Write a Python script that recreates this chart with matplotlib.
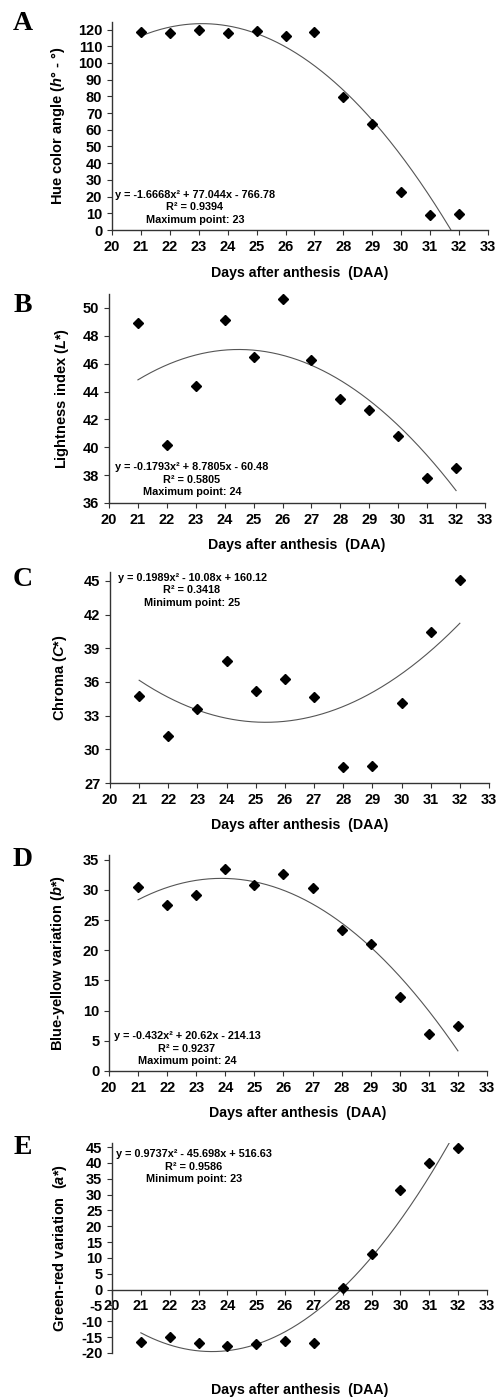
import numpy as np
import matplotlib
matplotlib.use("Agg")
import matplotlib.pyplot as plt

plt.rcParams['font.family'] = ['Liberation Sans', 'DejaVu Sans']
plt.rcParams['font.weight'] = 'bold'
plt.rcParams['axes.unicode_minus'] = False
plt.rcParams['mathtext.fontset'] = 'custom'
plt.rcParams['mathtext.it'] = 'Liberation Sans:bold:italic'
plt.rcParams['mathtext.rm'] = 'Liberation Sans:bold'
plt.rcParams['mathtext.bf'] = 'Liberation Sans:bold'

# days after anthesis
days = [21, 22, 23, 24, 25, 26, 27, 28, 29, 30, 31, 32]

hue = [118.4, 118.2, 119.6, 117.8, 119.0, 116.2, 118.6, 79.8, 63.7, 22.5, 9.0, 9.4]
lightness = [48.95, 40.15, 44.39, 49.16, 46.5, 50.67, 46.26, 43.43, 42.64, 40.79, 37.8, 38.54]
chroma = [34.75, 31.19, 33.6, 37.84, 35.17, 36.27, 34.63, 28.46, 28.55, 34.13, 40.46, 45.06]
blue_yellow = [30.57, 27.46, 29.18, 33.56, 30.84, 32.61, 30.4, 23.31, 21.04, 12.24, 6.15, 7.48]
green_red = [-16.5, -15.0, -16.7, -17.7, -17.2, -16.1, -16.7, 0.6, 11.2, 31.5, 40.0, 44.7]

# quadratic trend lines as printed on each panel (a, b, c)
hue_fit = [-1.6668, 77.044, -766.78]
lightness_fit = [-0.1793, 8.7805, -60.48]
chroma_fit = [0.1989, -10.08, 160.12]
blue_yellow_fit = [-0.432, 20.62, -214.13]
green_red_fit = [0.9737, -45.698, 516.63]

hue_eq = ["y = -1.6668x² + 77.044x - 766.78", "R² = 0.9394", "Maximum point: 23"]
lightness_eq = ["y = -0.1793x² + 8.7805x - 60.48", "R² = 0.5805", "Maximum point: 24"]
chroma_eq = ["y = 0.1989x² - 10.08x + 160.12", "R² = 0.3418", "Minimum point: 25"]
blue_yellow_eq = ["y = -0.432x² + 20.62x - 214.13", "R² = 0.9237", "Maximum point: 24"]
green_red_eq = ["y = 0.9737x² - 45.698x + 516.63", "R² = 0.9586", "Minimum point: 23"]

W, H = 499, 1399


def box(l, t, r, b):
    return [l / W, 1 - b / H, (r - l) / W, (b - t) / H]


def pt(x, y):
    return x / W, 1 - y / H


panels = [
    dict(letter='A', y=hue, fit=hue_fit, eq=hue_eq,
         ylabel='Hue color angle ($h$° - °)', ylim=(0, 124.5), yticks=range(0, 121, 10),
         box=(112, 22, 488, 230), letter_pos=(23, 24), eq_pos=(195, 195),
         ylab_x=58, xlab_y=273),
    dict(letter='B', y=lightness, fit=lightness_fit, eq=lightness_eq,
         ylabel='Lightness index ($L$*)', ylim=(36, 51), yticks=range(36, 51, 2),
         box=(109, 294, 485, 503), letter_pos=(23, 305), eq_pos=(192, 467),
         ylab_x=62, xlab_y=545),
    dict(letter='C', y=chroma, fit=chroma_fit, eq=chroma_eq,
         ylabel='Chroma ($C$*)', ylim=(27, 45.8), yticks=range(27, 46, 3),
         box=(110, 572, 489, 783), letter_pos=(23, 579), eq_pos=(192, 578),
         ylab_x=60, xlab_y=825),
    dict(letter='D', y=blue_yellow, fit=blue_yellow_fit, eq=blue_yellow_eq,
         ylabel='Blue-yellow variation ($b$*)', ylim=(0, 35.8), yticks=range(0, 36, 5),
         box=(109, 855, 487, 1071), letter_pos=(23, 859), eq_pos=(187, 1036),
         ylab_x=58, xlab_y=1113),
    dict(letter='E', y=green_red, fit=green_red_fit, eq=green_red_eq,
         ylabel='Green-red variation  ($a$*)', ylim=(-20, 46.3), yticks=range(-20, 46, 5),
         box=(112, 1143, 487, 1353), letter_pos=(23, 1148), eq_pos=(194, 1154),
         ylab_x=60, xlab_y=1390),
]

fig = plt.figure(figsize=(W / 100, H / 100), dpi=100)

for p in panels:
    ax = fig.add_axes(box(*p['box']))
    ax.plot(days, p['y'], 'D', color='black', ms=5.5, zorder=3, clip_on=False)
    a, b, c = p['fit']
    xs = np.linspace(days[0], days[-1], 300)
    ax.plot(xs, a * xs ** 2 + b * xs + c, color='#555555', lw=0.8)

    ax.set_xlim(20, 33)
    ax.set_xticks(range(20, 34))
    ax.set_ylim(*p['ylim'])
    ax.set_yticks(list(p['yticks']))
    for s in ['top', 'right']:
        ax.spines[s].set_visible(False)
    for s in ['left', 'bottom']:
        ax.spines[s].set_color('#333333')
        ax.spines[s].set_linewidth(1.0)
    if p['letter'] == 'E':
        ax.spines['bottom'].set_position(('data', 0))
    ax.tick_params(axis='both', direction='out', length=3.5, width=0.8,
                   colors='#333333', labelcolor='black')
    ax.tick_params(axis='y', labelsize=10.5, pad=3.5)
    ax.tick_params(axis='x', labelsize=10.5, pad=3.5)

    l, t, r, bt = p['box']
    ax.set_ylabel(p['ylabel'], fontsize=10.5, fontweight='bold')
    ax.yaxis.set_label_coords((p['ylab_x'] - l) / (r - l), 0.5)
    ax.yaxis.label.set_verticalalignment('center')
    ax.set_xlabel('Days after anthesis  (DAA)', fontsize=10.2, fontweight='bold')
    ax.xaxis.set_label_coords(0.5, (bt - p['xlab_y']) / (bt - t))
    ax.xaxis.label.set_verticalalignment('center')

    ex, ey = p['eq_pos']
    for i, line in enumerate(p['eq']):
        fig.text(*pt(ex, ey + i * 12.5), line, fontsize=7.8, fontweight='bold',
                 ha='center', va='center')

    fig.text(*pt(*p['letter_pos']), p['letter'], family='Liberation Serif',
             fontsize=20, fontweight='bold', ha='center', va='center')

fig.savefig('out.png', dpi=100)
